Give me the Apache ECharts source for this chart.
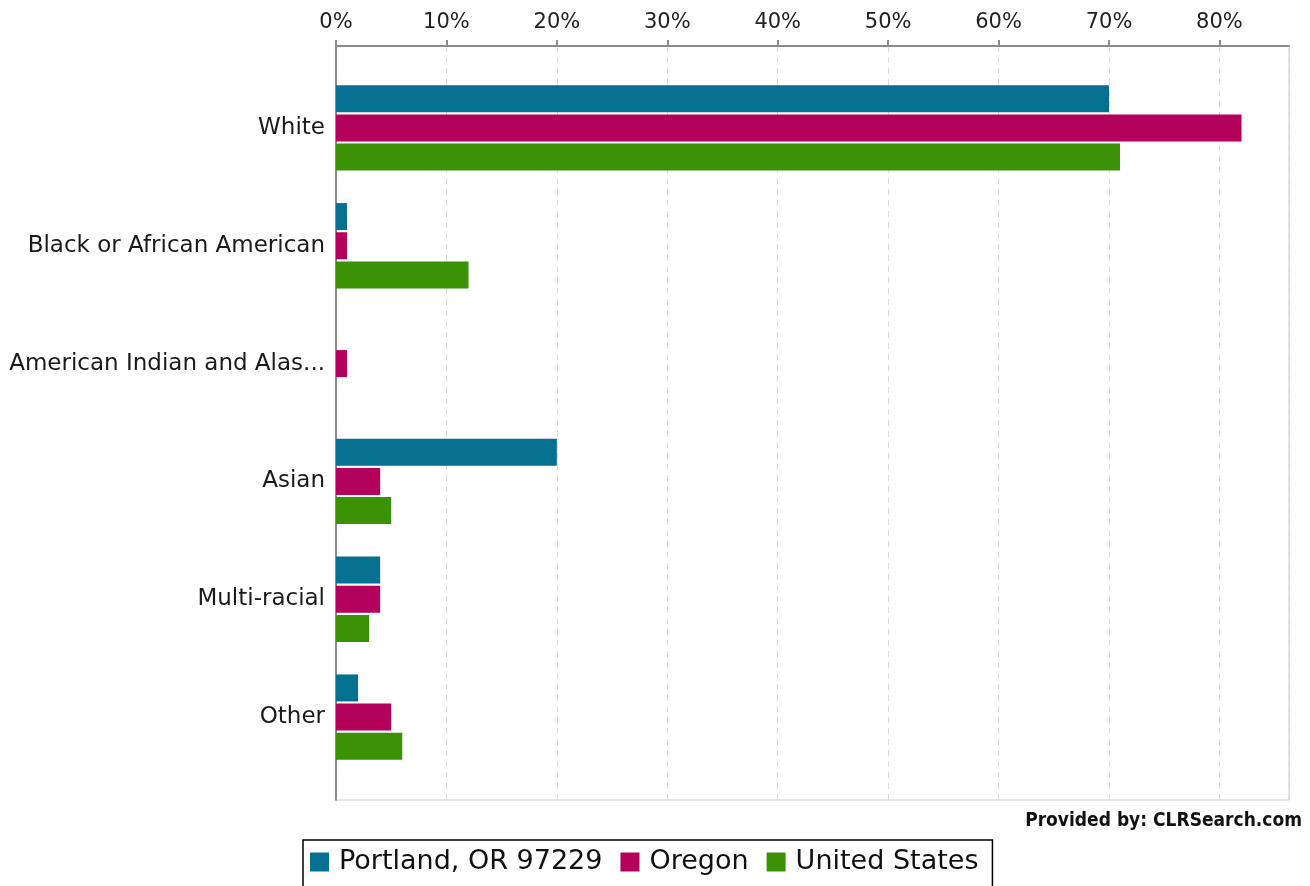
<!DOCTYPE html>
<html>
<head>
<meta charset="utf-8">
<style>
html,body{margin:0;padding:0;background:#fff;}
#chart{width:1310px;height:886px;}
</style>
<script src="https://cdn.jsdelivr.net/npm/echarts@6/dist/echarts.min.js"></script>
</head>
<body>
<div id="chart"></div>
<script>
const categories = ['White', 'Black or African American', 'American Indian and Alas...', 'Asian', 'Multi-racial', 'Other'];
const seriesNames = ['Portland, OR 97229', 'Oregon', 'United States'];
const portland = [70, 1, 0, 20, 4, 2];
const oregon = [82, 1, 1, 4, 4, 5];
const unitedStates = [71, 12, 0, 5, 3, 6];
const xMax = 86.3;
const xInterval = 10;
const credit = 'Provided by: CLRSearch.com';

const colors = ['#05708F', '#B3005A', '#3A9204'];
const seriesData = [portland, oregon, unitedStates];

const chart = echarts.init(document.getElementById('chart'));
const FONT = 'DejaVu Sans';
const L = 336, R = 1310 - 1289;

chart.setOption({
  animation: false,
  color: colors,
  grid: [
    {left: L, right: R, top: 46, height: 754, show: true, borderColor: '#cccccc', borderWidth: 1, backgroundColor: 'transparent'},
    {left: L, right: R, top: 69, height: 707}
  ],
  xAxis: [
    {
      gridIndex: 0, type: 'value', position: 'top', min: 0, max: xMax, interval: xInterval,
      axisLine: {show: true, onZero: false, lineStyle: {color: '#8c8c8c', width: 2}},
      axisTick: {show: true, inside: false, length: 6, lineStyle: {color: '#8c8c8c', width: 2}},
      axisLabel: {
        margin: 13, fontFamily: FONT, fontSize: 21, color: '#222',
        showMaxLabel: false,
        formatter: v => (Math.abs(v % xInterval) < 1e-9 ? v + '%' : '')
      },
      splitLine: {show: true, lineStyle: {color: '#dadada', type: [6, 5], width: 1}}
    },
    {gridIndex: 1, type: 'value', min: 0, max: xMax, show: false}
  ],
  yAxis: [
    {
      gridIndex: 0, type: 'value', min: 0, max: 1,
      axisLine: {show: true, onZero: false, lineStyle: {color: '#8c8c8c', width: 2}},
      axisTick: {show: false}, axisLabel: {show: false}, splitLine: {show: false}
    },
    {
      gridIndex: 1, type: 'category', data: categories, inverse: true,
      axisLine: {show: false}, axisTick: {show: false},
      axisLabel: {margin: 11, fontFamily: FONT, fontSize: 23, color: '#1a1a1a', padding: [3, 0, 0, 0]}
    }
  ],
  legend: {
    data: seriesNames,
    left: 303, top: 840,
    orient: 'horizontal',
    itemWidth: 19, itemHeight: 19, itemGap: 18,
    icon: 'rect',
    borderColor: '#000', borderWidth: 1.5, borderRadius: 0,
    padding: [8, 14, 40, 7],
    textStyle: {fontFamily: FONT, fontSize: 27, color: '#111', lineHeight: 28, padding: [0, 0, 0, 5]}
  },
  graphic: [
    {type: 'text', right: 8, top: 812, style: {text: credit, font: 'bold 19px "DejaVu Sans Condensed", "DejaVu Sans"', fill: '#111'}}
  ],
  series: seriesNames.map((name, i) => ({
    name: name,
    type: 'bar',
    xAxisIndex: 1, yAxisIndex: 1,
    data: seriesData[i],
    barWidth: 27,
    barGap: '8%',
    itemStyle: {color: colors[i]}
  }))
});
</script>
</body>
</html>
